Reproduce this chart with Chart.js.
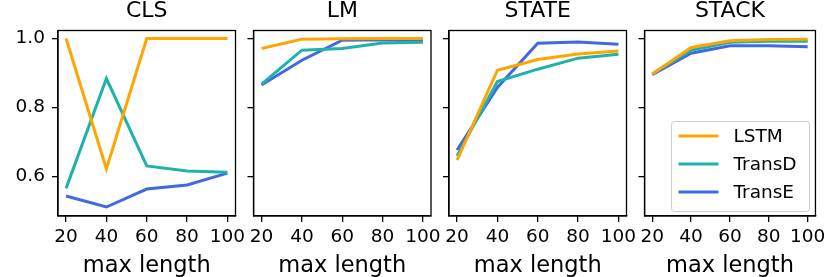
<!DOCTYPE html>
<html>
<head>
<meta charset="utf-8">
<script src="https://cdn.jsdelivr.net/npm/chart.js@4.4.1/dist/chart.umd.min.js"></script>
<style>
  body { margin: 0; background: #fff; }
  #wrap { position: relative; width: 830px; height: 277px; }
  #wrap canvas { position: absolute; left: 0; top: 0; }
</style>
</head>
<body>
<div id="wrap">
  <canvas id="c0" width="830" height="277"></canvas>
  <canvas id="c1" width="830" height="277"></canvas>
  <canvas id="c2" width="830" height="277"></canvas>
  <canvas id="c3" width="830" height="277"></canvas>
</div>
<script>
// data, one row per task: CLS, LM, STATE, STACK
var maxLength = [20, 40, 60, 80, 100];
var tasks = ['CLS', 'LM', 'STATE', 'STACK'];
var lstmAcc = [
    [1.000, 0.622, 1.000, 1.000, 1.000],
    [0.971, 0.998, 0.999, 1.000, 1.000],
    [0.648, 0.908, 0.939, 0.955, 0.964],
    [0.897, 0.974, 0.993, 0.997, 0.998]
];
var transDAcc = [
    [0.566, 0.884, 0.631, 0.616, 0.613],
    [0.868, 0.966, 0.971, 0.987, 0.989],
    [0.660, 0.875, 0.911, 0.943, 0.954],
    [0.897, 0.966, 0.989, 0.992, 0.992]
];
var transEAcc = [
    [0.544, 0.512, 0.564, 0.576, 0.610],
    [0.865, 0.937, 0.995, 0.996, 0.993],
    [0.677, 0.858, 0.986, 0.990, 0.983],
    [0.895, 0.957, 0.979, 0.979, 0.976]
];
var xTicks = [20, 40, 60, 80, 100];
var yTicks = [0.6, 0.8, 1.0];

// layout of the four panels (pixels)
var panelLeft = [58, 253.5, 449, 644.5];
var panelWidth = 177.5;
var W = 830;

Chart.defaults.font.family = 'DejaVu Sans';
Chart.defaults.color = '#000';

function series(label, values, color) {
    return {
        label: label,
        data: maxLength.map(function(x, i) { return { x: x, y: values[i] }; }),
        borderColor: color,
        backgroundColor: color,
        borderWidth: 3,
        pointRadius: 0,
        tension: 0,
        fill: false
    };
}

var frame = {
    id: 'frame',
    afterDatasetsDraw: function(chart) {
        var a = chart.chartArea, ctx = chart.ctx;
        ctx.save();
        ctx.strokeStyle = '#000';
        ctx.lineWidth = 1.3;
        ctx.strokeRect(a.left, a.top, a.right - a.left, a.bottom - a.top);
        ctx.restore();
    }
};

var legendBox = {
    id: 'legendBox',
    afterDraw: function(chart) {
        var a = chart.chartArea, ctx = chart.ctx;
        var w = 138, h = 90;
        var x0 = a.right - 6 - w, y0 = a.bottom - 4.5 - h;
        ctx.save();
        ctx.beginPath();
        ctx.roundRect(x0, y0, w, h, 3);
        ctx.fillStyle = 'rgba(255,255,255,0.8)';
        ctx.fill();
        ctx.strokeStyle = '#cccccc';
        ctx.lineWidth = 1;
        ctx.stroke();
        ctx.font = '18.5px "DejaVu Sans"';
        ctx.textBaseline = 'middle';
        chart.data.datasets.forEach(function(ds, i) {
            var y = y0 + 14.5 + i * 28;
            ctx.strokeStyle = ds.borderColor;
            ctx.lineWidth = 3;
            ctx.beginPath();
            ctx.moveTo(x0 + 7, y);
            ctx.lineTo(x0 + 47, y);
            ctx.stroke();
            ctx.fillStyle = '#000';
            ctx.fillText(ds.label, x0 + 62, y + 1);
        });
        ctx.restore();
    }
};

function makeChart(i) {
    var left = panelLeft[i];
    var right = left + panelWidth;
    var yw = i === 0 ? left : 10;
    var plugins = [frame];
    if (i === 3) plugins.push(legendBox);
    return new Chart(document.getElementById('c' + i), {
        type: 'line',
        data: {
            datasets: [
                series('LSTM', lstmAcc[i], '#FFA500'),
                series('TransD', transDAcc[i], '#20B2AA'),
                series('TransE', transEAcc[i], '#4169E1')
            ]
        },
        options: {
            responsive: false,
            animation: false,
            events: [],
            layout: { padding: { left: left - yw, right: W - right, top: 0, bottom: 0 } },
            plugins: {
                legend: { display: false },
                tooltip: { enabled: false },
                title: {
                    display: true,
                    text: tasks[i],
                    fullSize: false,
                    color: '#000',
                    font: { size: 22, weight: 'normal', lineHeight: 1 },
                    padding: { top: 0.5, bottom: 8 }
                }
            },
            scales: {
                x: {
                    type: 'linear',
                    min: 16,
                    max: 104,
                    afterBuildTicks: function(s) {
                        s.ticks = xTicks.map(function(v) { return { value: v }; });
                    },
                    afterFit: function(s) { s.height = 61; },
                    grid: { drawOnChartArea: false, color: '#000', tickLength: 6, lineWidth: 1.3 },
                    border: { color: '#000', width: 1.3 },
                    ticks: { color: '#000', font: { size: 18.5 }, padding: 4, maxRotation: 0, autoSkip: false },
                    title: {
                        display: true,
                        text: 'max length',
                        color: '#000',
                        font: { size: 22.5, lineHeight: 1 },
                        padding: { top: 0, bottom: 0 }
                    }
                },
                y: {
                    min: 0.486,
                    max: 1.023,
                    afterBuildTicks: function(s) {
                        s.ticks = yTicks.map(function(v) { return { value: v }; });
                    },
                    afterFit: function(s) { s.width = yw; },
                    grid: { drawOnChartArea: false, color: '#000', tickLength: 6, lineWidth: 1.3 },
                    border: { color: '#000', width: 1.3 },
                    ticks: {
                        display: i === 0,
                        color: '#000',
                        font: { size: 18.5 },
                        padding: 7,
                        callback: function(v) { return v.toFixed(1); }
                    }
                }
            }
        },
        plugins: plugins
    });
}

window.charts = [0, 1, 2, 3].map(makeChart);
</script>
</body>
</html>
